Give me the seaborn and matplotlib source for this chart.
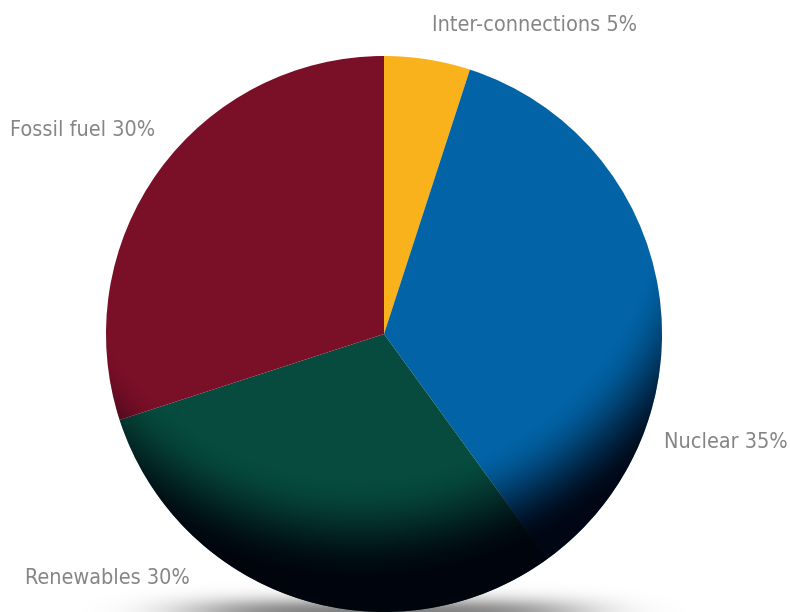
"""Electricity supply mix pie chart."""

import matplotlib.pyplot as plt
import numpy as np
import seaborn as sns
from matplotlib.patches import Circle

labels = ["Inter-connections", "Nuclear", "Renewables", "Fossil fuel"]
shares = [5, 35, 30, 30]
slice_colors = ["#F9B21B", "#0263A6", "#064B3E", "#7A0F28"]

sns.set_theme(style="white")
plt.rcParams["font.family"] = ["DejaVu Sans"]

W, H = 790, 612
fig = plt.figure(figsize=(W / 100, H / 100), dpi=100)
ax = fig.add_axes([0, 0, 1, 1])

cx, cy, r = 384, H - 334, 278

# soft shadow under the pie
xs = np.linspace(0, W, 400)
ys = np.linspace(-40, 40, 80)
gx, gy = np.meshgrid(xs, ys)
shade = np.exp(-((gx - cx) / 200) ** 4 - (gy / 14) ** 2)
shadow = np.zeros(gx.shape + (4,))
shadow[..., :3] = 0.35
shadow[..., 3] = 0.75 * shade
ax.imshow(shadow, extent=(0, W, -40, 40), origin="lower", zorder=0)

wedges, _ = ax.pie(
    shares,
    colors=slice_colors,
    startangle=90,
    counterclock=False,
    center=(cx, cy),
    radius=r,
    wedgeprops=dict(linewidth=0),
    frame=True,
)
for w in wedges:
    w.set_zorder(1)

# darkening towards the lower rim
lx, ly = 360, H - 178
px = np.linspace(cx - r, cx + r, 500)
py = np.linspace(cy - r, cy + r, 500)
mx, my = np.meshgrid(px, py)
d = np.hypot(mx - lx, my - ly)
t = np.clip((d - 300) / 105, 0, 1)
t = t * t * (3 - 2 * t)
dark = np.zeros(mx.shape + (4,))
dark[..., 2] = 0.04
dark[..., 3] = 0.94 * t
im = ax.imshow(dark, extent=(cx - r, cx + r, cy - r, cy + r), origin="lower", zorder=2)
clip = Circle((cx, cy), r, transform=ax.transData)
im.set_clip_path(clip)

label_pos = {
    "Inter-connections": (432, 25),
    "Nuclear": (664, 442),
    "Renewables": (25, 578),
    "Fossil fuel": (10, 130),
}
for name, share in zip(labels, shares):
    x, y = label_pos[name]
    ax.text(x, H - y, f"{name} {share}%", ha="left", va="center",
            fontsize=15.5, fontstretch="condensed", color="#858585", zorder=3)

ax.set_xlim(0, W)
ax.set_ylim(0, H)
ax.set_aspect("equal")
ax.axis("off")

fig.savefig("out.png", dpi=100)
